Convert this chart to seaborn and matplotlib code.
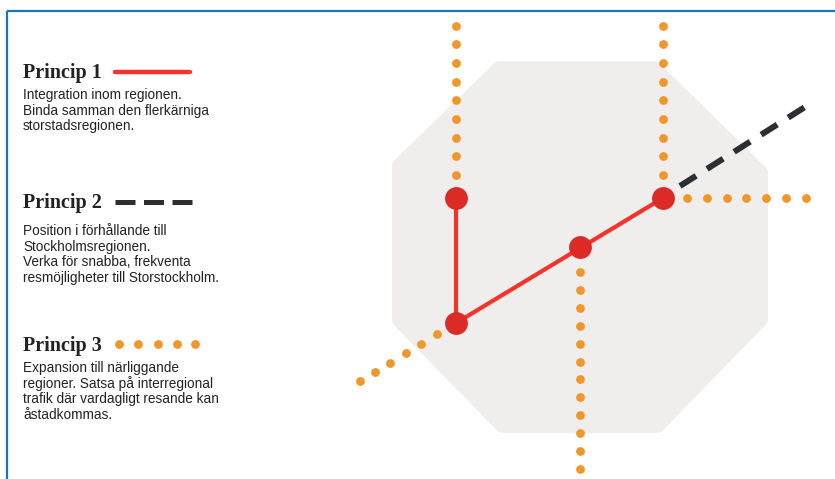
import matplotlib
matplotlib.use("Agg")
import matplotlib.pyplot as plt
import seaborn as sns
import pandas as pd
from matplotlib.patches import Polygon

# ---------------- data (pixel coordinates) ----------------
# light grey octagon (region), inner outline; a wide round-joined edge rounds the corners
octagon_x = [500, 654, 760, 760, 657, 503, 400, 400]
octagon_y = [69, 69, 173, 319, 425, 425, 320, 166]

# red stations
node_x = [456, 663, 580, 456]
node_y = [198, 198, 247, 323]

# Princip 1: red solid connections
p1_vert_x = [456, 456]
p1_vert_y = [198, 323]
p1_diag_x = [456, 663]
p1_diag_y = [323, 198]

# Princip 2: dark dashed line
p2_x = [680, 805]
p2_y = [186, 107]

# Princip 3: orange dotted lines (dot centres)
dots_a_x = [456] * 9
dots_a_y = [26, 44, 63, 82, 100, 119, 138, 156, 175]
dots_b_x = [663] * 9
dots_b_y = [26, 44, 63, 82, 100, 119, 138, 156, 175]
dots_c_x = [687, 707, 727, 746, 766, 786, 806]
dots_c_y = [198] * 7
dots_d_x = [580] * 12
dots_d_y = [272, 290, 308, 326, 344, 362, 379, 397, 415, 433, 451, 469]
dots_e_x = [437, 421, 406, 390, 375, 360]
dots_e_y = [334, 344, 353, 363, 372, 381]

# legend texts
titles = ["Princip 1", "Princip 2", "Princip 3"]
bodies = [
    ["Integration inom regionen.", "Binda samman den flerkärniga", "storstadsregionen."],
    ["Position i förhållande till", "Stockholmsregionen.", "Verka för snabba, frekventa",
     "resmöjligheter till Storstockholm."],
    ["Expansion till närliggande", "regioner. Satsa på interregional",
     "trafik där vardagligt resande kan", "åstadkommas."],
]
title_baseline = [78, 208, 351]
body_y0 = [95, 231, 368]

RED_LINE = "#F5332A"
RED_NODE = "#DC2A26"
ORANGE = "#F0972B"
DARK = "#2B2E33"
GREY = "#EFEEEC"
BLUE = "#1F72BE"

# ---------------- figure ----------------
sns.set_theme(style="white")
plt.rcParams["font.family"] = ["Liberation Sans", "DejaVu Sans"]
plt.rcParams["lines.scale_dashes"] = False

W, H = 835, 479
PT = 72 / 100  # points per pixel at dpi 100
fig = plt.figure(figsize=(W / 100, H / 100), dpi=100)
ax = fig.add_axes([0, 0, 1, 1])
ax.set_xlim(0, W)
ax.set_ylim(H, 0)
ax.axis("off")

# border (top and left only)
ax.plot([7, W], [11, 11], color=BLUE, lw=1.6, solid_capstyle="butt")
ax.plot([7, 7], [11, H], color=BLUE, lw=1.6, solid_capstyle="butt")

# octagon with rounded corners
ax.add_patch(Polygon(list(zip(octagon_x, octagon_y)), closed=True, facecolor=GREY,
                     edgecolor=GREY, lw=16 * PT, joinstyle="round", zorder=1))

# Princip 3 dotted lines
dots = pd.concat([
    pd.DataFrame({"x": dots_a_x, "y": dots_a_y}),
    pd.DataFrame({"x": dots_b_x, "y": dots_b_y}),
    pd.DataFrame({"x": dots_c_x, "y": dots_c_y}),
    pd.DataFrame({"x": dots_d_x, "y": dots_d_y}),
    pd.DataFrame({"x": dots_e_x, "y": dots_e_y}),
])
sns.scatterplot(data=dots, x="x", y="y", ax=ax, color=ORANGE, s=40, linewidth=0, zorder=3)

# Princip 2 dashed
l2 = pd.DataFrame({"x": p2_x, "y": p2_y})
sns.lineplot(data=l2, x="x", y="y", ax=ax, color=DARK, lw=6 * PT, sort=False,
             estimator=None, zorder=3)
ax.lines[-1].set_dashes([19 * PT, 13 * PT])
ax.lines[-1].set_dash_capstyle("butt")

# Princip 1 red
for xs, ys in [(p1_vert_x, p1_vert_y), (p1_diag_x, p1_diag_y)]:
    sns.lineplot(x=xs, y=ys, ax=ax, color=RED_LINE, lw=3.0, sort=False,
                 estimator=None, zorder=4)

# nodes
sns.scatterplot(x=node_x, y=node_y, ax=ax, color=RED_NODE, s=270, linewidth=0, zorder=5)

# legend texts
for t, ty, body, by in zip(titles, title_baseline, bodies, body_y0):
    ax.text(23, ty, t, fontsize=14.5, fontweight="bold", family=["Liberation Serif"],
            color="#222222", va="baseline", ha="left")
    for j, line in enumerate(body):
        ax.text(23, by + j * 15.6, line, fontsize=9.8, color="#222222",
                va="center", ha="left")

# legend symbols
sns.lineplot(x=[115, 190], y=[72, 72], ax=ax, color=RED_LINE, lw=3.2, estimator=None)
sns.lineplot(x=[115, 192], y=[202, 202], ax=ax, color=DARK, lw=5 * PT, estimator=None)
ax.lines[-1].set_dashes([20 * PT, 8.5 * PT])
ax.lines[-1].set_dash_capstyle("butt")
sns.scatterplot(x=[119, 138, 158, 177, 195], y=[344] * 5, ax=ax, color=ORANGE, s=40,
                linewidth=0)

if ax.get_legend():
    ax.get_legend().remove()
ax.set_xlim(0, W)
ax.set_ylim(H, 0)
fig.savefig("out.png", dpi=100)
